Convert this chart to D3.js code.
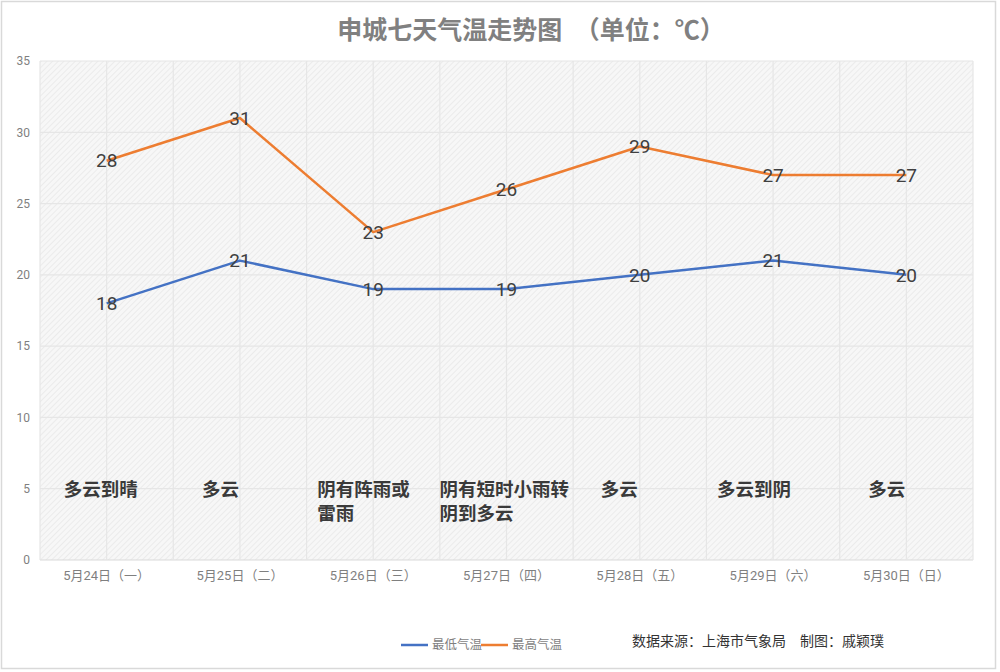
<!DOCTYPE html>
<html><head><meta charset="utf-8">
<script src="https://cdn.jsdelivr.net/npm/d3@7/dist/d3.min.js"></script>
<style>body{margin:0;background:#fff;}svg{display:block;}</style>
</head><body>
<svg id="c" width="1000" height="672"></svg>
<script>
const categories = ["5月24日（一）","5月25日（二）","5月26日（三）","5月27日（四）","5月28日（五）","5月29日（六）","5月30日（日）"];
const lowTemps = [18,21,19,19,20,21,20];
const highTemps = [28,31,23,26,29,27,27];
const weather = [["多云到晴"],["多云"],["阴有阵雨或","雷雨"],["阴有短时小雨转","阴到多云"],["多云"],["多云到阴"],["多云"]];
const weatherDx = [-43,-38,-56,-67,-39,-56,-38];
const yTicks = [0,5,10,15,20,25,30,35];
const seriesNames = ["最低气温","最高气温"];

const svg = d3.select("#c");
const W = 1000, H = 672;
const m = {l:40, r:27, t:61, b:112};
const x = d3.scaleBand().domain(categories).range([m.l, W - m.r]);
const y = d3.scaleLinear().domain([0,35]).range([H - m.b, m.t]);
const cx = d => x(d) + x.bandwidth()/2;

// frame
svg.append("rect").attr("x",1.5).attr("y",1.5).attr("width",994).attr("height",667)
  .attr("fill","#fff").attr("stroke","#d9d9d9").attr("stroke-width",1.5);

// hatch pattern
const defs = svg.append("defs");
const pat = defs.append("pattern").attr("id","hatch").attr("patternUnits","userSpaceOnUse")
  .attr("width",4).attr("height",4).attr("patternTransform","rotate(-45)");
pat.append("rect").attr("width",4).attr("height",4).attr("fill","#f7f7f7");
pat.append("line").attr("x1",0).attr("y1",0).attr("x2",4).attr("y2",0).attr("stroke","#e9e9e9").attr("stroke-width",1.6);

svg.append("rect").attr("x",m.l).attr("y",m.t).attr("width",W-m.r-m.l).attr("height",H-m.b-m.t)
  .attr("fill","url(#hatch)");

// grid
const g = svg.append("g");
yTicks.forEach(t => {
  g.append("line").attr("x1",m.l).attr("x2",W-m.r).attr("y1",y(t)).attr("y2",y(t))
   .attr("stroke", t===0 ? "#d9d9d9" : "#e6e6e6").attr("stroke-width",1.2);
});
const step = x.bandwidth()/2;
for (let i = 0; i <= categories.length*2; i++) {
  const xx = m.l + i*step;
  g.append("line").attr("x1",xx).attr("x2",xx).attr("y1",m.t).attr("y2",y(0))
   .attr("stroke","#e6e6e6").attr("stroke-width",1.2);
}

// y tick labels
const yAxis = d3.axisLeft(y).tickValues(yTicks).tickSize(0).tickPadding(10);
const ya = svg.append("g").attr("transform",`translate(${m.l},0)`).call(yAxis);
ya.select(".domain").remove();
ya.selectAll("text").attr("fill","#7f7f7f").style("font-family","Roboto, 'Noto Sans CJK SC', sans-serif").style("font-size","12px");

// x tick labels
const xAxis = d3.axisBottom(x).tickSize(0).tickPadding(11);
const xa = svg.append("g").attr("transform",`translate(0,${y(0)})`).call(xAxis);
xa.select(".domain").remove();
xa.selectAll("text").attr("fill","#7f7f7f").style("font-family","Roboto, 'Noto Sans CJK SC', sans-serif").style("font-size","13px");

// lines
const line = d3.line().x((d,i)=>cx(categories[i])).y(d=>y(d));
svg.append("path").datum(lowTemps).attr("d",line).attr("fill","none").attr("stroke","#4472C4").attr("stroke-width",2.5).attr("stroke-linejoin","round");
svg.append("path").datum(highTemps).attr("d",line).attr("fill","none").attr("stroke","#ED7D31").attr("stroke-width",2.5).attr("stroke-linejoin","round");

// data labels
[lowTemps, highTemps].forEach(arr => {
  svg.append("g").selectAll("text").data(arr).join("text")
    .attr("x",(d,i)=>cx(categories[i])).attr("y",d=>y(d)).attr("dy","0.35em")
    .attr("text-anchor","middle").attr("fill","#404040")
    .style("font-family","Roboto, 'Noto Sans', sans-serif").style("font-size","19px")
    .text(d=>d);
});

// weather annotations
weather.forEach((lines,i) => {
  const t = svg.append("text").attr("x", cx(categories[i]) + weatherDx[i]).attr("y", y(5) + 7)
    .attr("fill","#3a3a3a").style("font-family","'Noto Sans CJK SC', sans-serif")
    .style("font-size","18.5px").style("font-weight","bold");
  lines.forEach((l,j) => {
    t.append("tspan").attr("x", cx(categories[i]) + weatherDx[i]).attr("dy", j===0 ? 0 : 24).text(l);
  });
});

// title
svg.append("text").attr("x",531).attr("y",39).attr("text-anchor","middle")
  .attr("fill","#808080").style("font-family","'Noto Sans CJK SC', sans-serif")
  .style("font-size","25px").style("font-weight","bold").attr("xml:space","preserve")
  .text("申城七天气温走势图　（单位：℃）");

// legend
const colors = ["#4472C4","#ED7D31"];
const lg = svg.append("g");
const lx = [401, 481];
seriesNames.forEach((n,i) => {
  lg.append("line").attr("x1",lx[i]).attr("x2",lx[i]+27).attr("y1",645).attr("y2",645)
    .attr("stroke",colors[i]).attr("stroke-width",2.5);
  lg.append("text").attr("x",lx[i]+31).attr("y",645).attr("dy","0.35em")
    .attr("fill","#7f7f7f").style("font-family","'Noto Sans CJK SC', sans-serif").style("font-size","12.5px").text(n);
});

// source
svg.append("text").attr("x",632).attr("y",641).attr("dy","0.35em")
  .attr("fill","#333").style("font-family","'Noto Sans CJK SC', serif").style("font-size","14px")
  .attr("xml:space","preserve")
  .text("数据来源：上海市气象局　制图：戚颖璞");
</script>
</body></html>
